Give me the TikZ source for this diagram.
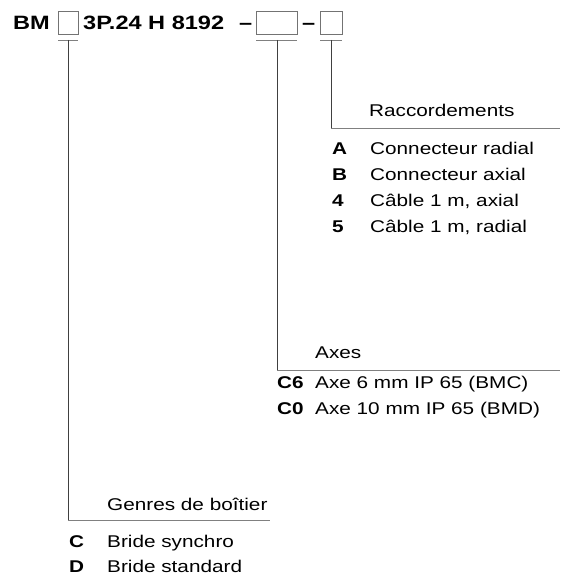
\documentclass[tikz,border=0pt]{standalone}
\usepackage{fontspec}
\setmainfont[FakeStretch=1.22]{Liberation Sans}
\usepackage{xcolor}
\usetikzlibrary{positioning}

\tikzset{
  codebox/.style={draw=black!55, line width=0.8pt, inner sep=0pt, minimum height=23pt},
  headtxt/.style={font=\fontsize{19.3}{22}\selectfont\bfseries, inner sep=0pt, anchor=base west},
  keytxt/.style={font=\fontsize{17}{20}\selectfont\bfseries, inner sep=0pt, anchor=base west},
  desctxt/.style={font=\fontsize{17}{20}\selectfont, inner sep=0pt, anchor=base west},
  leader/.style={draw=black!75, line width=0.8pt},
  rule/.style={draw=black!50, line width=0.8pt}
}

\begin{document}
\begin{tikzpicture}[x=1pt, y=-1pt]
  \useasboundingbox (0,0) rectangle (560,575);

  %% ─── Header code ────────────────────────────────────────────────────────
  \node[headtxt] (bm) at (13,30) {BM};
  \node[codebox, minimum width=20pt] (box1) at (68,23) {};
  \node[headtxt] (code) at (83,30) {3P.24 H 8192};
  \node[headtxt] (dash1) at (239,30) {–};
  \node[codebox, minimum width=41pt] (box2) at (276.5,23) {};
  \node[headtxt] (dash2) at (302,30) {–};
  \node[codebox, minimum width=22pt] (box3) at (331,23) {};

  %% underlines below the boxes
  \coordinate (u1w) at (58,40);  \coordinate (u1e) at (78,40);
  \coordinate (u2w) at (256,40); \coordinate (u2e) at (297,40);
  \coordinate (u3w) at (320,40); \coordinate (u3e) at (342,40);
  \draw[rule] (u1w) -- (u1e);
  \draw[rule] (u2w) -- (u2e);
  \draw[rule] (u3w) -- (u3e);

  %% ─── Raccordements ──────────────────────────────────────────────────────
  \coordinate (r_top) at (331,40);
  \coordinate (r_turn) at (331,128);
  \coordinate (r_end) at (560,128);
  \draw[leader] (r_top) -- (r_turn);
  \draw[rule] (r_turn) -- (r_end);
  \node[desctxt] (r_title) at (369,117) {Raccordements};

  \node[keytxt]  (r_a) at (332,154) {A};
  \node[desctxt] (r_a_txt) at (370,154) {Connecteur radial};
  \node[keytxt]  (r_b) at (332,180) {B};
  \node[desctxt] (r_b_txt) at (370,180) {Connecteur axial};
  \node[keytxt]  (r_4) at (332,206) {4};
  \node[desctxt] (r_4_txt) at (370,206) {Câble 1 m, axial};
  \node[keytxt]  (r_5) at (332,232) {5};
  \node[desctxt] (r_5_txt) at (370,232) {Câble 1 m, radial};

  %% ─── Axes ───────────────────────────────────────────────────────────────
  \coordinate (a_top) at (277,40);
  \coordinate (a_turn) at (277,370);
  \coordinate (a_end) at (560,370);
  \draw[leader] (a_top) -- (a_turn);
  \draw[rule] (a_turn) -- (a_end);
  \node[desctxt] (a_title) at (315,358) {Axes};

  \node[keytxt]  (a_c6) at (277,388) {C6};
  \node[desctxt] (a_c6_txt) at (315,388) {Axe 6 mm IP 65 (BMC)};
  \node[keytxt]  (a_c0) at (277,414) {C0};
  \node[desctxt] (a_c0_txt) at (315,414) {Axe 10 mm IP 65 (BMD)};

  %% ─── Genres de boîtier ──────────────────────────────────────────────────
  \coordinate (g_top) at (68,40);
  \coordinate (g_turn) at (68,520);
  \coordinate (g_end) at (270,520);
  \draw[leader] (g_top) -- (g_turn);
  \draw[rule] (g_turn) -- (g_end);
  \node[desctxt] (g_title) at (107,510) {Genres de boîtier};

  \node[keytxt]  (g_c) at (69,547) {C};
  \node[desctxt] (g_c_txt) at (107,547) {Bride synchro};
  \node[keytxt]  (g_d) at (69,572) {D};
  \node[desctxt] (g_d_txt) at (107,572) {Bride standard};

\end{tikzpicture}
\end{document}
